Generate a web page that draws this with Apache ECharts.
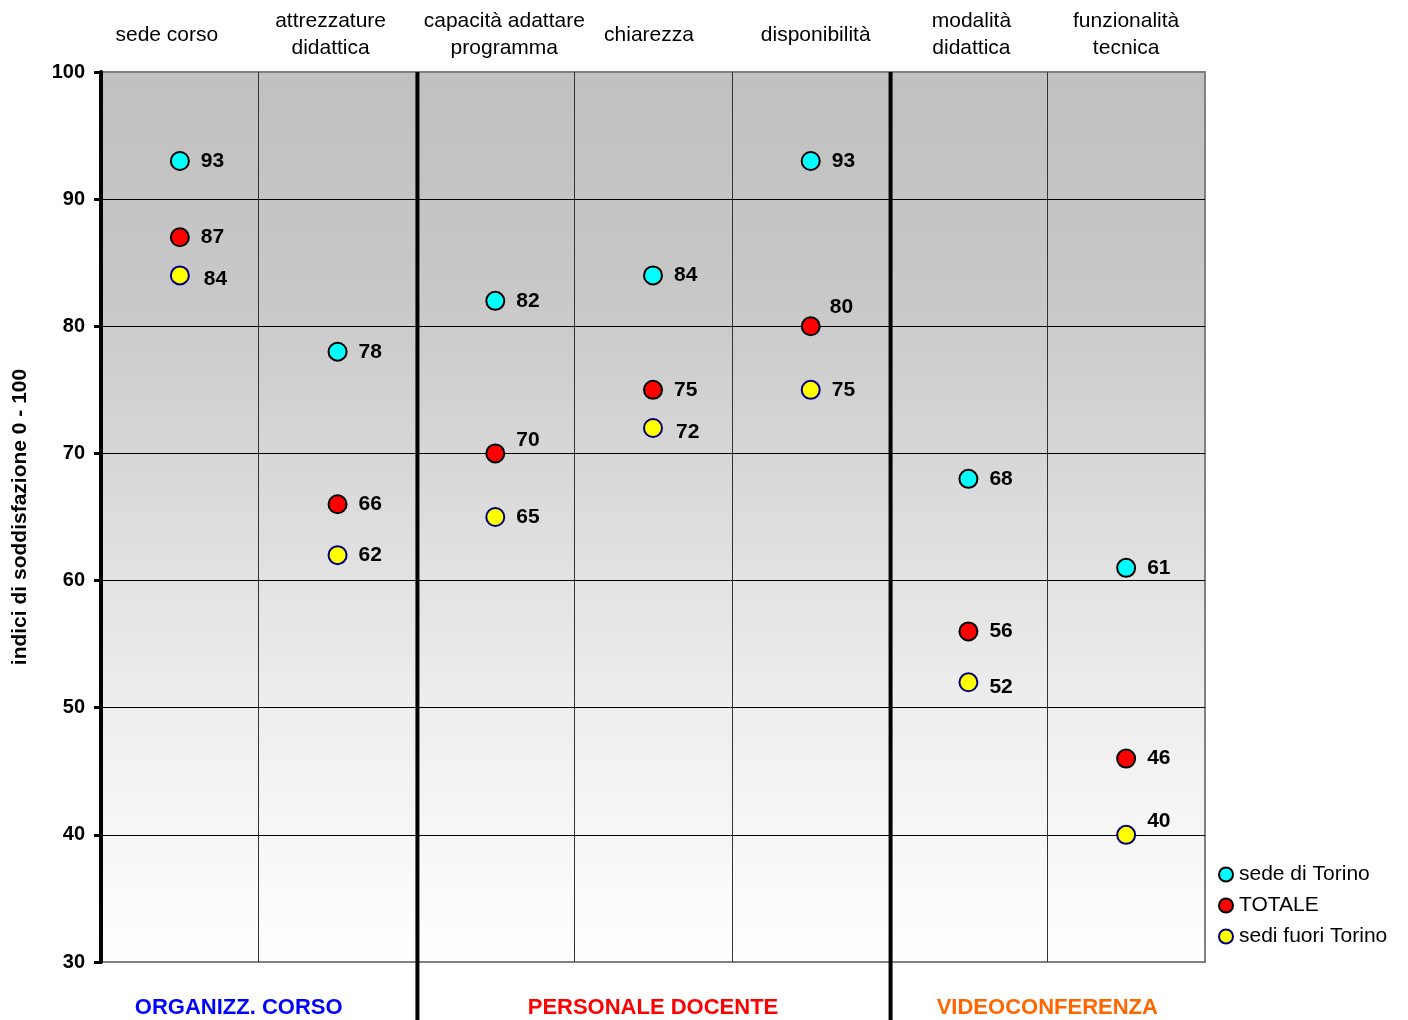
<!DOCTYPE html>
<html>
<head>
<meta charset="utf-8">
<script src="https://cdn.jsdelivr.net/npm/echarts@6/dist/echarts.min.js"></script>
<style>
  html, body { margin: 0; padding: 0; background: #ffffff; }
  #chart { width: 1408px; height: 1020px; }
</style>
</head>
<body>
<div id="chart"></div>
<script>
// Categories (top axis) and the three score series
const categories = [
  'sede corso',
  'attrezzature\ndidattica',
  'capacità adattare\nprogramma',
  'chiarezza',
  'disponibilità',
  'modalità\ndidattica',
  'funzionalità\ntecnica'
];
const sedeTorino = [93, 78, 82, 84, 93, 68, 61];
const totale     = [87, 66, 70, 75, 80, 56, 46];
const sediFuori  = [84, 62, 65, 72, 75, 52, 40];

const yMin = 30, yMax = 100, yStep = 10;

// Category groups shown below the plot (first/last category index)
const groups = [
  { name: 'ORGANIZZ. CORSO',   first: 0, last: 1 },
  { name: 'PERSONALE DOCENTE', first: 2, last: 4 },
  { name: 'VIDEOCONFERENZA',   first: 5, last: 6 }
];

// ---- styling ----
const FONT = '"Liberation Sans", Arial, Helvetica, sans-serif';
const groupColors = ['#0000ff', '#ff0000', '#ff6600'];
const groupShift = [-20, 0, 0];
// horizontal shift of each category title (negative = left)
const catShift = [-13, -7, 9, -4, 5, 3, 0];

// small label nudges where labels would sit on grid lines
const labelNudge = {
  'TOTALE': { 2: [0, -13], 4: [-2, -19] },
  'sedi fuori Torino': { 0: [3, 4], 3: [2, 4], 5: [0, 5], 6: [0, -14] }
};

function buildData(name, values) {
  const nudges = labelNudge[name] || {};
  return values.map((v, i) => nudges[i]
    ? { value: v, label: { offset: nudges[i] } }
    : v);
}

function makeSeries(name, values, fill, border) {
  return {
    name: name,
    type: 'scatter',
    data: buildData(name, values),
    symbol: 'circle',
    symbolSize: 18,
    itemStyle: { color: fill, borderColor: border, borderWidth: 2, opacity: 1 },
    label: {
      show: true,
      position: 'right',
      distance: 11,
      color: '#000',
      fontFamily: FONT,
      fontWeight: 'bold',
      fontSize: 21
    },
    emphasis: { disabled: true },
    z: 5
  };
}

// rich styles that shift each category title sideways
const catRich = {};
catShift.forEach((s, i) => {
  catRich['c' + i] = {
    fontFamily: FONT,
    fontSize: 21,
    color: '#000',
    lineHeight: 27,
    padding: s < 0 ? [0, -2 * s, 0, 0] : [0, 0, 0, 2 * s]
  };
});

const chart = echarts.init(document.getElementById('chart'), null, { renderer: 'canvas' });

const option = {
  backgroundColor: '#ffffff',
  animation: false,
  grid: {
    left: 101, right: 203, top: 72, bottom: 58,
    containLabel: false,
    outerBoundsMode: 'none',
    show: true,
    borderColor: '#808080',
    borderWidth: 2,
    backgroundColor: new echarts.graphic.LinearGradient(0, 0, 0, 1, [
      { offset: 0, color: '#c0c0c0' },
      { offset: 0.25, color: '#c8c8c8' },
      { offset: 0.7, color: '#ededed' },
      { offset: 1, color: '#ffffff' }
    ])
  },
  legend: {
    orient: 'vertical',
    left: 1218,
    top: 864,
    padding: 0,
    itemWidth: 14,
    itemHeight: 14,
    itemGap: 10,
    textStyle: { fontFamily: FONT, fontSize: 21, color: '#000', padding: [0, 0, 0, 1] },
    selectedMode: false
  },
  xAxis: {
    type: 'category',
    position: 'top',
    data: categories,
    boundaryGap: true,
    axisLine: { show: false },
    axisTick: { show: false },
    axisLabel: {
      interval: 0,
      margin: 37,
      verticalAlign: 'middle',
      lineHeight: 27,
      color: '#000',
      fontFamily: FONT,
      fontSize: 21,
      formatter: function (value, idx) {
        return value.split('\n').map(line => '{c' + idx + '|' + line + '}').join('\n');
      },
      rich: catRich
    },
    splitLine: {
      show: true,
      interval: 0,
      showMinLine: false,
      showMaxLine: false,
      lineStyle: { color: '#333333', width: 1 }
    }
  },
  yAxis: {
    type: 'value',
    min: yMin,
    max: yMax,
    interval: yStep,
    name: 'indici di soddisfazione 0 - 100',
    nameLocation: 'middle',
    nameGap: 70,
    nameRotate: 90,
    nameTextStyle: { fontFamily: FONT, fontWeight: 'bold', fontSize: 21, color: '#000' },
    axisLine: { show: true, lineStyle: { color: '#000', width: 4 } },
    axisTick: { show: true, length: 7, lineStyle: { color: '#000', width: 3 } },
    axisLabel: {
      margin: 16,
      color: '#000',
      fontFamily: FONT,
      fontWeight: 'bold',
      fontSize: 20
    },
    splitLine: {
      show: true,
      showMinLine: false,
      showMaxLine: false,
      lineStyle: { color: '#000000', width: 1 }
    }
  },
  series: [
    makeSeries('sede di Torino', sedeTorino, '#00ffff', '#000000'),
    makeSeries('TOTALE', totale, '#ff0000', '#000000'),
    makeSeries('sedi fuori Torino', sediFuori, '#ffff00', '#000080')
  ]
};

chart.setOption(option);

// Group separators and group titles, placed from the axis scales
function drawGroups() {
  const top = chart.convertToPixel({ yAxisIndex: 0 }, yMax);
  const bottom = chart.convertToPixel({ yAxisIndex: 0 }, yMin);
  const cx = categories.map((c, i) => chart.convertToPixel({ xAxisIndex: 0 }, i));
  const half = (cx[1] - cx[0]) / 2;
  const H = chart.getHeight();
  const elements = [];
  groups.forEach((g, gi) => {
    const x0 = cx[g.first] - half;
    const x1 = cx[g.last] + half;
    if (g.first > 0) {
      elements.push({
        type: 'line',
        shape: { x1: x0 + 1, y1: top, x2: x0 + 1, y2: H },
        style: { stroke: '#000', lineWidth: 4 },
        z: 10
      });
    }
    elements.push({
      type: 'text',
      x: (x0 + x1) / 2 + groupShift[gi],
      y: (bottom + H) / 2 + 17,
      style: {
        text: g.name,
        fill: groupColors[gi],
        font: 'bold 22px ' + FONT,
        align: 'center',
        verticalAlign: 'middle'
      },
      z: 10
    });
  });
  chart.setOption({ graphic: { elements: elements } });
}
drawGroups();
</script>
</body>
</html>
